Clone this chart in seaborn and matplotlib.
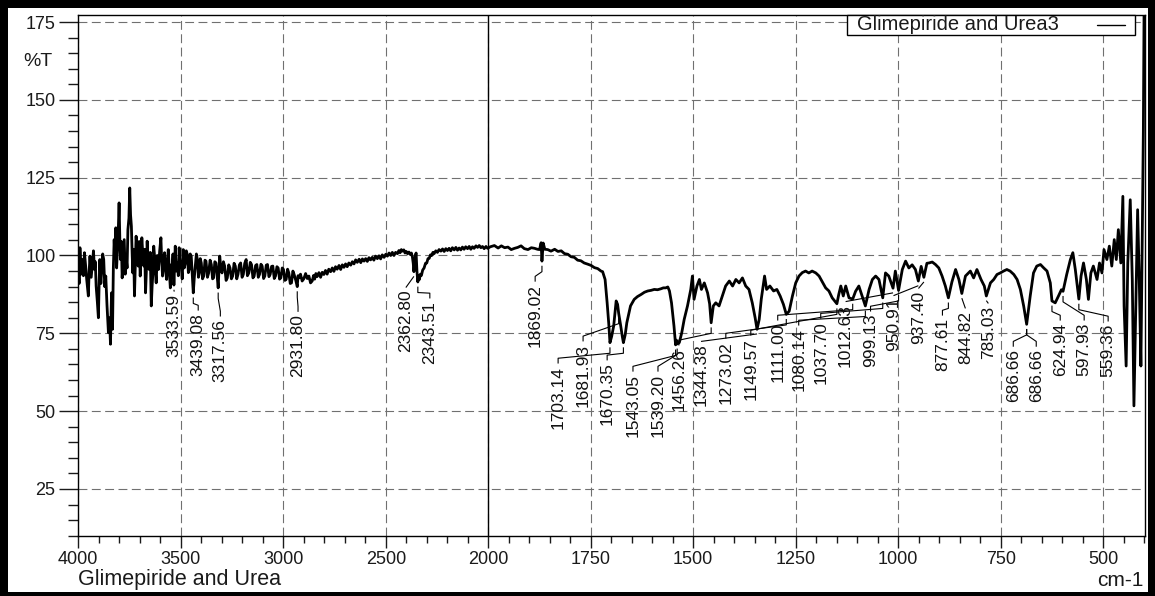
import numpy as np
import pandas as pd
import matplotlib
matplotlib.use("Agg")
import matplotlib.pyplot as plt
from matplotlib.patches import Rectangle
from matplotlib.lines import Line2D
from matplotlib.ticker import FixedLocator
import seaborn as sns

# ---------------------------------------------------------------- data
# FTIR transmittance spectrum (wavenumber in cm-1, %T)
wn_high = [4000, 3996, 3992, 3986, 3980, 3975, 3970, 3964, 3959, 3955, 3951, 3947,
           3943, 3937, 3931, 3926, 3921, 3917, 3913, 3907, 3902, 3898, 3895, 3890,
           3886, 3881, 3876, 3871, 3866, 3860, 3853, 3848, 3843, 3838, 3833, 3829,
           3825, 3821, 3817, 3813, 3809, 3805, 3801, 3797, 3794, 3790, 3786, 3781,
           3776, 3771, 3767, 3762, 3758, 3753, 3749, 3745, 3741, 3737, 3734, 3730,
           3726, 3722, 3718, 3713, 3708, 3703, 3698, 3694, 3690, 3685, 3680, 3676,
           3672, 3668, 3664, 3659, 3654, 3649, 3644, 3640, 3636, 3632, 3628, 3624,
           3620, 3615, 3609, 3603, 3597, 3593, 3589, 3584, 3579, 3574, 3569, 3565,
           3561, 3556, 3551, 3547, 3543, 3538, 3533.59, 3530, 3527, 3522, 3517, 3512,
           3508, 3503, 3498, 3493, 3488, 3483, 3478, 3473, 3468, 3463, 3459, 3454,
           3449, 3444, 3439.08, 3434, 3429, 3424, 3419, 3414, 3410, 3405, 3400, 3394,
           3388, 3382, 3377, 3370, 3364, 3357, 3351, 3345, 3340, 3334, 3328, 3322,
           3317.56, 3314, 3310, 3304, 3299, 3292, 3286, 3279, 3273, 3266, 3260, 3253,
           3247, 3240, 3234, 3227, 3221, 3214, 3208, 3201, 3195, 3188, 3181, 3175,
           3168, 3161, 3155, 3148, 3142, 3135, 3129, 3122, 3116, 3109, 3103, 3096,
           3090, 3083, 3077, 3070, 3064, 3057, 3051, 3044, 3038, 3031, 3025, 3018,
           3012, 3005, 2999, 2992, 2986, 2979, 2973, 2966, 2960, 2953, 2947, 2939,
           2931.80, 2928, 2924, 2916, 2908]
t_high = [97.1, 91.0, 102.5, 94.0, 98.7, 93.5, 100.9, 96.5, 92.3, 89.5, 87.0, 95.0,
          99.8, 93.0, 97.6, 101.5, 95.5, 98.0, 90.2, 85.0, 80.0, 92.0, 98.7, 91.0,
          95.5, 100.5, 98.7, 90.0, 93.4, 84.0, 75.2, 80.0, 71.5, 88.0, 76.3, 96.0,
          105.1, 99.0, 108.9, 96.0, 101.9, 108.0, 116.9, 104.0, 98.7, 104.5, 92.8, 99.0,
          105.1, 94.0, 99.8, 96.0, 108.3, 112.0, 121.7, 113.0, 109.4, 100.0, 94.4, 102.0,
          87.0, 96.0, 106.2, 101.0, 96.6, 104.5, 93.4, 99.0, 105.7, 100.0, 96.6, 102.0,
          88.0, 95.0, 104.6, 97.0, 95.5, 101.0, 83.8, 90.0, 94.4, 103.0, 99.8, 95.0,
          91.2, 100.0, 95.5, 101.5, 105.7, 98.0, 93.4, 99.0, 100.9, 95.0, 92.3, 98.0,
          101.9, 95.0, 89.6, 97.0, 95.5, 100.5, 90.5, 97.0, 103.0, 95.0, 97.6, 93.5,
          102.5, 98.0, 96.6, 92.5, 101.9, 96.0, 97.6, 101.5, 100.3, 94.5, 95.5, 100.5,
          99.8, 94.0, 88.0, 93.0, 96.6, 100.5, 98.7, 93.0, 94.4, 99.0, 97.6, 92.5,
          93.4, 98.5, 98.2, 93.0, 94.4, 98.5, 97.1, 92.5, 92.8, 98.0, 97.6, 93.0,
          89.6, 95.0, 99.8, 95.5, 94.4, 98.0, 96.6, 92.0, 92.8, 97.0, 96.0, 92.5,
          93.4, 97.5, 96.6, 92.5, 93.9, 97.0, 97.6, 93.0, 93.9, 97.5, 98.7, 93.5,
          94.4, 97.8, 97.1, 92.8, 93.4, 96.8, 97.1, 93.0, 93.9, 97.2, 96.6, 92.6,
          93.4, 96.9, 97.1, 93.2, 93.9, 96.5, 96.6, 92.6, 93.4, 96.4, 96.0, 92.4,
          92.8, 96.0, 95.5, 92.0, 92.3, 95.6, 94.4, 91.0, 91.2, 95.0, 93.9, 92.0,
          90.0, 93.5, 92.8, 94.0, 91.8]

wn_mid = [2900, 2891, 2883, 2875, 2867, 2859, 2852, 2847, 2841, 2835, 2826, 2818,
          2810, 2802, 2794, 2786, 2778, 2769, 2761, 2753, 2745, 2737, 2728, 2720,
          2712, 2704, 2696, 2688, 2680, 2671, 2663, 2655, 2647, 2639, 2630, 2622,
          2614, 2606, 2598, 2590, 2582, 2574, 2566, 2558, 2550, 2541, 2533, 2525,
          2517, 2508, 2500, 2492, 2484, 2476, 2468, 2460, 2452, 2443, 2436, 2430,
          2424, 2419, 2412, 2406, 2400, 2394, 2387, 2380, 2375, 2370, 2366, 2362.80,
          2359, 2356, 2352, 2348, 2343.51, 2340, 2336, 2331, 2326, 2320, 2313, 2306,
          2300, 2294, 2288, 2282, 2276, 2270, 2264, 2256, 2248, 2240, 2231, 2223,
          2215, 2207, 2199, 2191, 2183, 2175, 2166, 2158, 2150, 2142, 2134, 2126,
          2118, 2110, 2101, 2093, 2085, 2077, 2069, 2060, 2052, 2044, 2036, 2028,
          2020, 2011, 2003]
t_mid = [92.5, 94.2, 92.6, 93.4, 91.2, 91.8, 93.6, 92.4, 94.2, 93.2, 94.5, 93.0,
         94.6, 93.9, 95.2, 94.0, 95.6, 94.8, 96.0, 94.9, 96.4, 95.6, 96.8, 95.5,
         97.0, 96.2, 97.3, 96.4, 97.6, 96.9, 98.0, 97.3, 98.6, 97.8, 98.8, 97.7,
         98.9, 98.2, 99.0, 98.1, 99.3, 98.6, 99.4, 98.5, 99.8, 99.0, 99.9, 98.9,
         100.2, 99.4, 100.4, 99.8, 100.8, 100.0, 101.0, 100.0, 101.0, 100.6, 101.6, 100.9,
         101.9, 101.4, 101.8, 100.8, 101.3, 100.6, 101.1, 100.3, 100.8, 99.5, 97.5, 94.8,
         97.5, 99.8, 100.8, 95.0, 91.5, 93.5, 92.3, 94.0, 93.6, 95.3, 96.0, 97.5,
         97.6, 99.0, 99.1, 100.2, 100.0, 101.0, 100.6, 101.5, 101.0, 101.9, 101.4, 102.1,
         101.3, 102.2, 101.6, 102.3, 101.5, 102.5, 101.8, 102.6, 101.7, 102.4, 101.8, 102.7,
         102.0, 102.8, 102.2, 102.9, 102.0, 102.8, 102.3, 103.1, 102.6, 103.2, 102.5, 102.9,
         102.2, 102.9, 102.3]

wn_fp = [1995, 1985, 1976, 1968, 1960, 1952, 1944, 1936, 1928, 1920, 1912, 1903,
         1895, 1887, 1880, 1875, 1871, 1869.02, 1866, 1862, 1855, 1847, 1838, 1830,
         1822, 1814, 1806, 1798, 1790, 1782, 1774, 1766, 1757, 1749, 1741, 1733,
         1725, 1721, 1715, 1710, 1706, 1703.14, 1699, 1694, 1688, 1684.5, 1681.93,
         1677, 1673, 1670.35, 1666, 1662, 1653, 1644, 1636, 1627, 1619, 1611, 1603,
         1595, 1587, 1579, 1573, 1567, 1562, 1558, 1553, 1547, 1543.05, 1541, 1539.20,
         1534, 1528, 1522, 1514, 1506, 1502, 1498, 1491, 1485, 1480, 1473, 1465, 1460,
         1456.26, 1451, 1445, 1437, 1429, 1421, 1412, 1404, 1396, 1388, 1380, 1372,
         1364, 1356, 1349, 1344.38, 1339, 1334, 1326, 1321, 1313, 1304, 1296, 1288,
         1280, 1273.02, 1266, 1258, 1250, 1242, 1234, 1226, 1218, 1210, 1201, 1193,
         1185, 1177, 1169, 1161, 1155, 1149.57, 1145, 1140, 1134, 1128, 1120, 1111.00,
         1104, 1096, 1088, 1080.14, 1071, 1063, 1055, 1047, 1037.70, 1031, 1023,
         1012.63, 1007, 999.13, 990, 982, 974, 966, 958, 950.91, 944, 937.40, 930,
         925, 917, 909, 901, 893, 885, 877.61, 869, 860, 852, 844.82, 836, 824, 816,
         808, 798, 790, 785.03, 775, 767, 759, 751, 743, 735, 727, 718, 710, 702, 694,
         686.66, 678, 670, 662, 653, 645, 637, 629, 624.94, 617, 609, 602, 597.93,
         589, 580, 574, 568, 559.36, 554, 548, 541, 536, 530, 524, 515, 509, 503, 498,
         491, 485, 479, 473, 468, 463, 457, 452, 449, 444, 440, 434, 429, 425, 420,
         416, 412, 408, 405, 402, 400]
t_fp = [102.8, 103.2, 102.4, 103.1, 102.5, 102.7, 101.9, 102.3, 102.6, 103.1, 102.2, 101.9,
        102.5, 102.3, 102.0, 101.9, 104.1, 98.2, 104.0, 102.0, 101.9, 101.4, 102.0, 101.3,
        101.5, 100.6, 100.4, 99.6, 99.4, 98.5, 98.3, 97.6, 97.2, 96.8, 96.1, 95.8,
        95.0, 94.8, 92.3, 84.8, 78.0, 72.0, 74.0, 77.4, 85.4, 84.3, 81.5,
        77.5, 74.0, 72.0, 74.5, 78.4, 83.8, 85.9, 86.8, 87.5, 88.2, 88.6, 88.8,
        89.1, 89.0, 89.3, 89.6, 89.6, 89.9, 88.6, 84.8, 77.4, 71.3, 72.8, 71.6,
        72.0, 75.2, 79.5, 83.8, 89.1, 93.4, 85.9, 90.2, 92.3, 89.1, 91.2, 88.0, 84.5,
        78.4, 83.8, 84.8, 83.8, 87.0, 90.2, 91.8, 90.2, 92.3, 91.2, 92.8, 90.2,
        89.1, 84.8, 80.0, 76.3, 79.5, 86.0, 93.4, 89.1, 90.2, 88.6, 89.1, 87.0,
        84.3, 81.1, 82.1, 87.0, 91.2, 93.4, 94.5, 95.0, 94.4, 95.0, 94.4, 93.4,
        91.5, 89.6, 88.6, 86.4, 85.4, 84.5, 87.5, 90.2, 87.0, 90.2, 86.4, 86.0,
        88.5, 90.2, 87.0, 83.8, 89.1, 92.3, 93.4, 92.3, 86.4, 94.4, 93.4,
        89.5, 95.0, 88.8, 95.5, 98.2, 96.0, 97.0, 95.5, 91.8, 96.5, 93.0, 97.5,
        97.6, 97.9, 97.1, 96.0, 93.4, 90.2, 86.4, 91.5, 95.5, 92.3, 87.8, 93.4, 95.0, 92.8,
        95.5, 92.3, 90.2, 87.0, 91.2, 92.3, 93.9, 94.4, 95.0, 95.5, 95.0, 93.9, 92.3, 89.1, 83.8,
        77.9, 87.0, 94.4, 96.6, 97.1, 96.0, 95.0, 91.2, 85.4, 84.8, 87.0, 89.0, 88.5,
        93.9, 98.7, 100.9, 95.5, 86.0, 93.4, 97.6, 92.3, 85.9, 94.4, 96.6, 92.3, 97.6, 94.4, 101.9,
        98.7, 103.0, 96.6, 105.1, 98.7, 108.3, 97.6, 119.0, 83.8, 64.5, 97.6, 117.9, 92.3, 51.7, 87.0,
        114.7, 92.3, 64.5, 103.0, 140.0, 185.0]

# labelled absorption bands (cm-1)
peak_wn = [3533.59, 3439.08, 3317.56, 2931.80, 2362.80, 2343.51, 1869.02, 1703.14,
           1681.93, 1670.35, 1543.05, 1539.20, 1456.26, 1344.38, 1273.02, 1149.57,
           1111.00, 1080.14, 1037.70, 1012.63, 999.13, 950.91, 937.40, 877.61,
           844.82, 785.03, 686.66, 686.66, 624.94, 597.93, 559.36]

# where each band label is written: wavenumber of the text and %T of its top end
label_wn = [3532, 3415, 3307, 2928, 2402, 2285, 1885.6, 1829.6, 1768.7, 1710, 1647,
            1586, 1535, 1481, 1420.5, 1359.6, 1293.9, 1242.7, 1189, 1128.3, 1067.5,
            1011.5, 950.6, 892.1, 836.1, 780.1, 719.3, 663.3, 604.8, 546.4, 487.9]
label_top = [88.1, 82.0, 80.1, 81.6, 89.4, 85.9, 91.3, 65.0, 72.1, 66.0, 62.4,
             62.4, 70.8, 72.1, 73.0, 74.0, 78.8, 77.2, 79.4, 84.9, 81.7,
             86.8, 89.1, 80.4, 82.7, 84.3, 70.4, 70.4, 78.8, 78.8, 78.5]

x_major = [4000, 3500, 3000, 2500, 2000, 1750, 1500, 1250, 1000, 750, 500]
y_major = [25, 50, 75, 100, 125, 150, 175]

series_name = "Glimepiride and Urea3"
sample_name = "Glimepiride and Urea"

# ---------------------------------------------------------------- style
sns.set_style("ticks")
plt.rcParams["font.family"] = ["Liberation Sans", "DejaVu Sans"]

W_PX, H_PX = 1155, 596
fig = plt.figure(figsize=(W_PX / 100, H_PX / 100), dpi=100)
fig.patch.set_facecolor("white")


def fx(px):
    return px / W_PX


def fy(py):
    return 1 - py / H_PX


ax_l, ax_r, ax_t, ax_b = 78.3, 1145, 15, 536
ax = fig.add_axes([fx(ax_l), fy(ax_b), fx(ax_r - ax_l), (ax_b - ax_t) / H_PX])

spec = pd.DataFrame({"wavenumber": wn_high + wn_mid + wn_fp,
                     "T": t_high + t_mid + t_fp})
sns.lineplot(data=spec, x="wavenumber", y="T", ax=ax, color="black",
             linewidth=2.0, estimator=None, errorbar=None, sort=True,
             legend=False)


# wavenumber axis: 4000-2000 drawn at half the scale of 2000-400
def fwd(w):
    w = np.asarray(w, dtype=float)
    return np.where(w > 2000, 2000 + (w - 2000) / 2.0, w)


def inv(u):
    u = np.asarray(u, dtype=float)
    return np.where(u > 2000, 2000 + (u - 2000) * 2.0, u)


ax.set_xscale("function", functions=(fwd, inv))
ax.set_xlim(4000, 398)
ax.set_ylim(9.9, 177.25)

x_minor = [v for v in range(3900, 2000, -100) if v not in x_major] + \
          [v for v in range(1950, 399, -50) if v not in x_major]
y_minor = [v for v in range(10, 177, 5) if v not in y_major]
ax.xaxis.set_major_locator(FixedLocator(x_major))
ax.set_xticklabels([str(v) for v in x_major])
ax.xaxis.set_minor_locator(FixedLocator(x_minor))
ax.yaxis.set_major_locator(FixedLocator(y_major))
ax.set_yticklabels([str(v) for v in y_major])
ax.yaxis.set_minor_locator(FixedLocator(y_minor))

ax.tick_params(axis="x", which="major", length=8.6, width=1.0, direction="out",
               pad=2.5, labelsize=13, colors="#1a1a1a")
ax.tick_params(axis="x", which="minor", length=5.0, width=1.0, direction="out",
               colors="#1a1a1a")
ax.tick_params(axis="y", which="major", length=13.7, width=1.0, direction="out",
               pad=2.8, labelsize=13, colors="#1a1a1a")
ax.tick_params(axis="y", which="minor", length=7.2, width=1.0, direction="out",
               colors="#1a1a1a")

ax.grid(True, which="major", color="#707070", linewidth=0.8,
        linestyle=(0, (8, 4)))
ax.set_axisbelow(True)
ax.axvline(2000, color="black", linewidth=1.0, zorder=1.5)
for s in ax.spines.values():
    s.set_visible(True)
    s.set_color("black")
    s.set_linewidth(1.0)
ax.set_xlabel("")
ax.set_ylabel("")

# ---------------------------------------------------------------- band labels
order = np.argsort(spec["wavenumber"].values)
w_sorted = spec["wavenumber"].values[order]
t_sorted = spec["T"].values[order]
for p, lx, ly in zip(peak_wn, label_wn, label_top):
    tp = float(np.interp(p, w_sorted, t_sorted))
    y0 = tp - 1.5
    y1 = tp - 3.4
    y2 = ly + 2.0
    y3 = ly + 0.3
    if y1 > y2:
        xs, ys = [p, p, lx, lx], [y0, y1, y2, y3]
    else:
        xs, ys = [p, lx], [y0, y3]
    ax.plot(xs, ys, color="black", linewidth=0.8, solid_capstyle="butt")
    ax.text(lx, ly - 0.4, f"{p:.2f}", rotation=90, ha="center", va="top",
            fontsize=12.5, color="#111111")

# ---------------------------------------------------------------- series key
key_l, key_r, key_t, key_b = 847, 1135, 15, 35
fig.add_artist(Rectangle((fx(key_l), fy(key_b)), fx(key_r - key_l),
                         (key_b - key_t) / H_PX, transform=fig.transFigure,
                         facecolor="white", edgecolor="black", linewidth=1.0,
                         zorder=5))
fig.text(fx(857), fy(25), series_name, ha="left", va="center",
         fontsize=14.5, color="#1a1a1a", zorder=6)
fig.add_artist(Line2D([fx(1097), fx(1125)], [fy(25), fy(25)],
                      transform=fig.transFigure, color="black",
                      linewidth=1.0, zorder=6))

fig.text(fx(38), fy(62), "%T", ha="center", va="center",
         fontsize=14, color="#1a1a1a")
fig.text(fx(78), fy(580), sample_name, ha="left", va="center",
         fontsize=15.5, color="#1a1a1a")
fig.text(fx(1143), fy(580), "cm-1", ha="right", va="center",
         fontsize=15, color="#1a1a1a")

# black frame around the whole image
for (x0, y0, w, h) in [(0, 0, W_PX, 4), (0, H_PX - 8, W_PX, 8),
                       (0, 0, 8, H_PX), (W_PX - 7, 0, 7, H_PX)]:
    fig.add_artist(Rectangle((x0 / W_PX, y0 / H_PX), w / W_PX, h / H_PX,
                             transform=fig.transFigure, facecolor="black",
                             edgecolor="none", zorder=10))

fig.savefig("out.png", dpi=100)
